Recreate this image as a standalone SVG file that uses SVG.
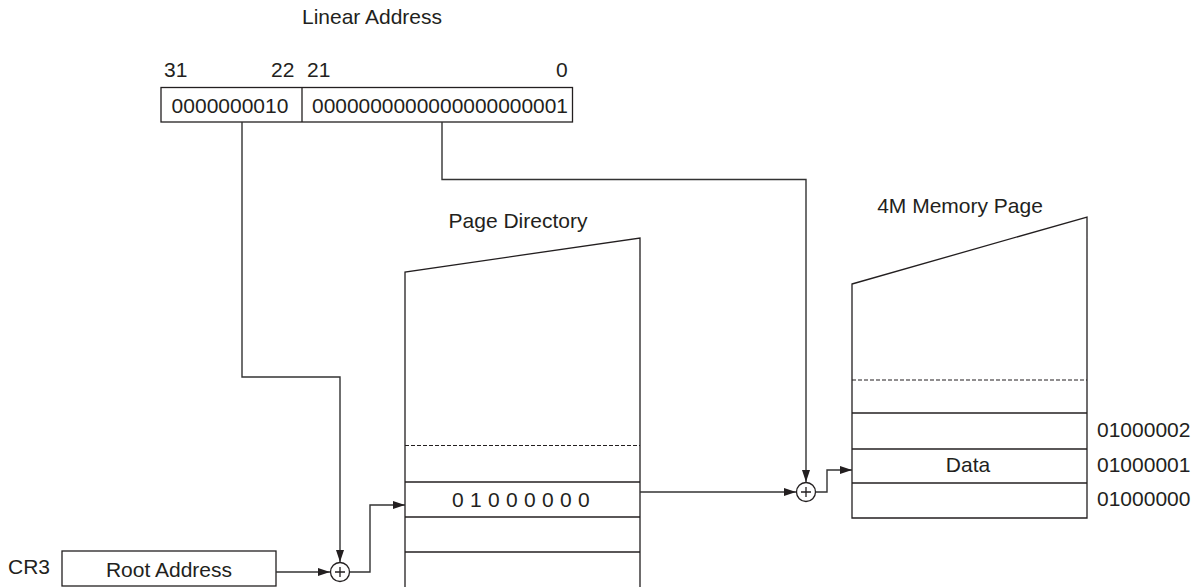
<svg xmlns="http://www.w3.org/2000/svg" width="1202" height="587" viewBox="0 0 1202 587">
<defs>
<marker id="ah" markerWidth="12" markerHeight="8" refX="12" refY="4" orient="auto" markerUnits="userSpaceOnUse">
<path d="M0,0 L12,4 L0,8 Z" fill="#231f20"/>
</marker>
<style>
text{font-family:"Liberation Sans",Arial,sans-serif;font-size:21px;fill:#231f20}
.s{fill:none;stroke:#231f20;stroke-width:1.3}
.w{fill:#fff;stroke:#231f20;stroke-width:1.3}
.d{fill:none;stroke:#231f20;stroke-width:1.2;stroke-dasharray:4,2}
.c{fill:none;stroke:#333;stroke-width:1.4}
.m{text-anchor:middle}
</style>
</defs>
<rect width="1202" height="587" fill="#fff"/>

<g id="linear-address">
<text x="372" y="24" class="m">Linear Address</text>
<text x="164" y="77">31</text>
<text x="271" y="77">22</text>
<text x="307" y="77">21</text>
<text x="556" y="77">0</text>
<rect x="161" y="87.5" width="411.5" height="34.5" class="w"/>
<line x1="302" y1="87.5" x2="302" y2="122" class="s"/>
<text x="230" y="113" class="m">0000000010</text>
<text x="312" y="113" textLength="256" lengthAdjust="spacingAndGlyphs">0000000000000000000001</text>
</g>

<g id="cr3">
<text x="8" y="574">CR3</text>
<rect x="62" y="551" width="214" height="35" class="w"/>
<text x="169" y="577" class="m">Root Address</text>
</g>

<g id="adder1">
<circle cx="340" cy="572" r="9.5" class="s"/>
<path d="M335,572 H345 M340,567 V577" class="s"/>
</g>

<g id="page-directory">
<text x="518" y="228" class="m">Page Directory</text>
<path d="M405,589 V272 L640,238 V589" class="s"/>
<line x1="405" y1="445.5" x2="640" y2="445.5" class="d"/>
<line x1="405" y1="482" x2="640" y2="482" class="s"/>
<line x1="405" y1="517" x2="640" y2="517" class="s"/>
<line x1="405" y1="552" x2="640" y2="552" class="s"/>
<text x="524" y="507" class="m" letter-spacing="6.3">01000000</text>
</g>

<g id="adder2">
<circle cx="806" cy="492" r="9.5" class="s"/>
<path d="M801,492 H811 M806,487 V497" class="s"/>
</g>

<g id="memory-page">
<text x="960" y="213" class="m">4M Memory Page</text>
<path d="M852,284 L1087,217 V518 H852 Z" class="s"/>
<line x1="852" y1="380" x2="1087" y2="380" class="d"/>
<line x1="852" y1="413" x2="1087" y2="413" class="s"/>
<line x1="852" y1="449" x2="1087" y2="449" class="s"/>
<line x1="852" y1="483" x2="1087" y2="483" class="s"/>
<text x="968" y="472" class="m">Data</text>
<text x="1097" y="437">01000002</text>
<text x="1097" y="472">01000001</text>
<text x="1097" y="506">01000000</text>
</g>

<g id="connectors">
<path d="M242,122 V377 H340 V562" class="c" marker-end="url(#ah)"/>
<path d="M276,572 H330" class="c" marker-end="url(#ah)"/>
<path d="M349.5,572 H370 V505 H405" class="c" marker-end="url(#ah)"/>
<path d="M640,492 H796" class="c" marker-end="url(#ah)"/>
<path d="M442,122 V179.5 H806 V482" class="c" marker-end="url(#ah)"/>
<path d="M815.5,492 H827 V470 H852" class="c" marker-end="url(#ah)"/>
</g>
</svg>
